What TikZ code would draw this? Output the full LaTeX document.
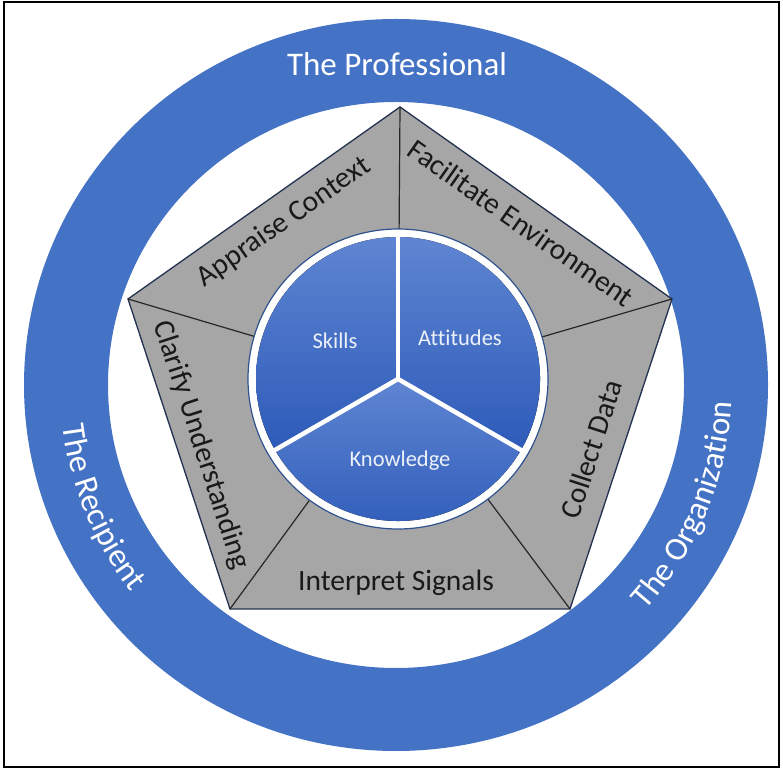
\documentclass[tikz,border=0pt]{standalone}
\usepackage{fontspec}
\setmainfont{Carlito}[Ligatures=NoCommon]
\usepackage{tikz}
\usetikzlibrary{calc,decorations.text}
\definecolor{ringblue}{HTML}{4472C4}
\definecolor{pentgray}{HTML}{A6A6A6}
\definecolor{pentline}{HTML}{22314F}
\definecolor{pietop}{HTML}{5F85D2}
\definecolor{piebot}{HTML}{2D5BB9}
\definecolor{pieline}{HTML}{2F528F}
\newcommand\ringfont{\fontsize{33}{33}\selectfont}

\begin{document}
\begin{tikzpicture}[x=1pt,y=1pt,
  ringtext/.style={text=white,font=\ringfont},
  pentext/.style={text=black!90,font=\fontsize{29.5}{29.5}\selectfont},
  pietext/.style={text=white!90!ringblue,font=\fontsize{22.5}{22.5}\selectfont},
  spoke/.style={line width=1.2pt,black!85}]
  \useasboundingbox (0,0) rectangle (783,770);
  \draw[line width=2pt] (4,3) rectangle (779,768);
  % Outer Ring
  \coordinate (rc) at (396,385);
  \fill[ringblue,even odd rule] (rc) ellipse [x radius=372,y radius=366]
    (rc) ellipse [x radius=288,y radius=283];
  \node[ringtext] (prof) at (397,706) {The Professional};
  \path[decorate,decoration={text along path,text align=center,text color=white,
    text={|\ringfont|The Organization}}]
    (rc) ++(-60:336) arc[start angle=-60,end angle=15,radius=336];
  \path[decorate,decoration={text along path,text align=center,text color=white,
    text={|\ringfont|The Recipient}}]
    (rc) ++(165:336) arc[start angle=165,end angle=240,radius=336];
  %
  % Pentagon
  \coordinate (p1) at (400,663);
  \coordinate (p2) at (128,471);
  \coordinate (p3) at (230,161);
  \coordinate (p4) at (570,161);
  \coordinate (p5) at (672,471);
  \coordinate (cc) at (398,391);
  \filldraw[fill=pentgray,draw=pentline,line width=1.3pt] (p1) -- (p2) -- (p3) -- (p4) -- (p5) -- cycle;
  \foreach \v in {p1,p2,p3,p4,p5}
    \draw[spoke] (\v) -- (cc);
  \node[pentext,rotate=35] (appraise) at (284,548) {Appraise Context};
  \node[pentext,rotate=-35] (facilitate) at (521,547) {Facilitate Environment};
  \node[pentext,rotate=72] (collect) at (591,321) {Collect Data};
  \node[pentext] (interpret) at (396,187) {Interpret Signals};
  \node[pentext,rotate=-72] (clarify) at (201,325) {Clarify Understanding};
  %
  % Pie
  \filldraw[fill=white,draw=pieline,line width=1.2pt] (cc) circle (150);
  \fill[top color=pietop,bottom color=piebot] (cc) -- ++(90:142) arc[start angle=90,end angle=210,radius=142] -- cycle;
  \fill[top color=pietop,bottom color=piebot] (cc) -- ++(-30:142) arc[start angle=-30,end angle=90,radius=142] -- cycle;
  \fill[top color=pietop,bottom color=piebot] (cc) -- ++(210:142) arc[start angle=210,end angle=330,radius=142] -- cycle;
  \foreach \a in {90,210,330}
    \draw[white,line width=4.5pt] (cc) -- ++(\a:143);
  \node[pietext] (skills) at (335,429) {Skills};
  \node[pietext] (attitudes) at (460,432) {Attitudes};
  \node[pietext] (knowledge) at (400,309) {Knowledge};
\end{tikzpicture}
\end{document}
